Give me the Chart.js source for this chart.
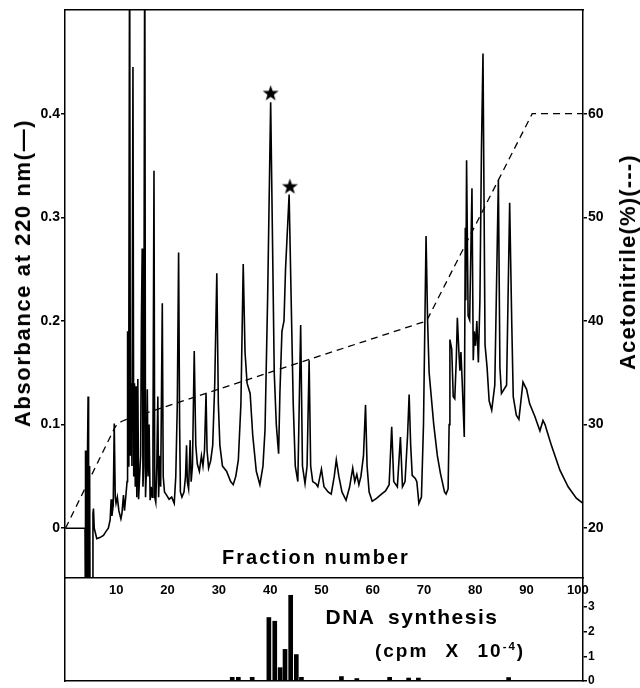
<!DOCTYPE html>
<html>
<head>
<meta charset="utf-8">
<script src="https://cdn.jsdelivr.net/npm/chart.js@4.4.1/dist/chart.umd.min.js"></script>
<style>
  html, body { margin: 0; padding: 0; background: #fff; }
  #wrap { position: relative; width: 640px; height: 688px; overflow: hidden;
          font-family: "Liberation Sans", Arial, sans-serif; font-weight: bold; color: #000; }
  canvas { position: absolute; left: 0; }
  #main { top: 0; }
  #dna { top: 578px; }
  .lbl { position: absolute; white-space: nowrap; transform: translate(-50%, -50%); line-height: 1; }
  .rot { transform: translate(-50%, -50%) rotate(-90deg); }
  sup { font-size: 0.6em; vertical-align: 0.55em; }
</style>
</head>
<body>
<div id="wrap">
  <canvas id="main" width="640" height="688"></canvas>
  <canvas id="dna" width="640" height="110"></canvas>
  <div class="lbl rot" style="left:23px; top:273px; font-size:22px; letter-spacing:1.6px;">Absorbance at 220 nm(—)</div>
  <div class="lbl rot" style="left:628px; top:262px; font-size:22px; letter-spacing:1.2px;">Acetonitrile(%)(---)</div>
  <div class="lbl" style="left:316px; top:557px; font-size:20px; letter-spacing:2px;">Fraction number</div>
  <div class="lbl" style="left:412px; top:616px; font-size:21px; letter-spacing:1.5px; word-spacing:6px;">DNA synthesis</div>
  <div class="lbl" style="left:450px; top:650px; font-size:19px; letter-spacing:2px; word-spacing:10px;">(cpm X 10<sup>-4</sup>)</div>
</div>
<script>
// Absorbance at 220 nm trace (fraction, absorbance)
const absX = [
  0.1, 3.9, 3.95, 4.05, 4.15, 4.3, 4.4, 4.5, 4.6, 4.7, 4.8, 4.9, 5.35, 5.45, 5.55, 5.7, 6.2, 6.8, 7.5, 8.0,
  8.45, 8.8, 9.0, 9.15, 9.4, 9.6, 9.8, 9.95, 10.2, 10.5, 10.9, 11.1, 11.4, 11.6, 11.9, 12.1,
  12.2, 12.3, 12.45, 12.6, 12.75, 12.9, 13.05, 13.25, 13.4, 13.55, 13.7, 13.85, 14.0, 14.2, 14.35, 14.55,
  14.75, 14.9, 15.05, 15.2, 15.35, 15.55, 15.7, 15.9, 16.05, 16.2, 16.4, 16.6, 16.8, 17.0, 17.15, 17.35,
  17.5, 17.7, 17.9, 18.1, 18.25, 18.5, 18.65, 18.97, 19.15, 19.4, 19.8, 20.3, 20.8, 21.3, 21.6, 21.9,
  22.15, 22.35, 22.5,
  22.8, 23.2, 23.5, 23.7, 23.85, 24.1, 24.4, 24.6, 24.85, 25.2, 25.5, 25.8, 26.2, 26.6, 26.9, 27.2,
  27.5, 27.7, 28.0, 28.4, 28.8, 29.2, 29.6, 29.9, 30.2, 30.7, 31.5, 32.3, 32.8, 33.3, 33.8, 34.3,
  34.75, 35.1, 35.5, 36.1, 36.6, 37.3, 38.0, 38.6, 39.0, 39.5, 40.1, 40.4, 40.8, 41.2, 41.65, 41.9,
  42.3, 42.7, 43.0, 43.7, 44.1, 44.5, 44.9, 45.4, 45.95, 46.3, 46.8, 47.2, 47.6, 47.9, 48.3, 48.9,
  49.3, 50.0, 50.5, 51.3, 51.9, 52.5, 52.9, 53.4, 54.0, 54.8, 55.5, 56.1, 56.5, 56.9, 57.3, 57.7,
  58.2, 58.6, 58.9, 59.3, 59.9, 60.8, 61.7, 62.5, 63.2, 63.7, 64.1, 64.8, 65.4, 65.8, 66.3, 66.8,
  67.1, 67.4, 67.7, 68.3, 68.6, 69.0, 69.5, 69.9, 70.4, 70.7, 71.0, 71.9, 72.6, 73.2, 74.0, 74.3,
  74.7, 74.9, 75.05, 75.4, 75.7, 76.0, 76.3, 76.5, 76.8, 77.0, 77.2, 77.45, 77.85, 78.05, 78.15, 78.3,
  78.6, 78.9, 79.35, 79.6, 79.8, 80.05, 80.3, 80.6, 80.9, 81.2, 81.5, 81.9, 82.3, 82.7, 83.2, 83.8,
  84.5, 84.8, 85.1, 86.1, 86.7, 87.1, 87.4, 88.0, 88.5, 89.3, 90.0, 90.6, 91.6, 92.6, 93.2, 93.6,
  93.9, 94.9, 96.5, 98.1, 99.7, 101
];
const absY = [
  0, 0, 0.075, -0.1, 0.075, -0.1, 0.078, 0.127, 0.07, -0.1, 0.06, -0.1, -0.1, 0.014, 0.019, 0.0, -0.01, -0.009, -0.007, -0.003,
  0.0, 0.008, 0.028, 0.012, 0.022, 0.101, 0.03, 0.024, 0.03, 0.017, 0.009, 0.014, 0.032, 0.017, 0.033, 0.045,
  0.19, 0.06, 0.2, 0.6, 0.07, 0.14, 0.06, 0.445, 0.05, 0.14, 0.04, 0.137, 0.03, 0.144, 0.028, 0.05,
  0.07, 0.2, 0.27, 0.04, 0.06, 0.6, 0.03, 0.06, 0.134, 0.05, 0.1, 0.027, 0.04, 0.03, 0.08, 0.345,
  0.03, 0.025, 0.06, 0.127, 0.03, 0.07, 0.04, 0.217, 0.05, 0.035, 0.032, 0.028, 0.03, 0.024, 0.05, 0.12,
  0.266, 0.1, 0.035,
  0.03, 0.035, 0.05, 0.08, 0.045, 0.038, 0.085, 0.045, 0.06, 0.171, 0.08, 0.062, 0.055, 0.07, 0.06, 0.075,
  0.13, 0.075, 0.058, 0.065, 0.08, 0.14, 0.246, 0.12, 0.08, 0.06, 0.055, 0.045, 0.042, 0.05, 0.066, 0.12,
  0.255, 0.17, 0.14, 0.13, 0.09, 0.055, 0.042, 0.06, 0.095, 0.22, 0.411, 0.3, 0.15, 0.1, 0.072, 0.13,
  0.19, 0.2, 0.25, 0.322, 0.22, 0.12, 0.06, 0.045, 0.196, 0.06, 0.043, 0.06, 0.162, 0.06, 0.045, 0.043,
  0.04, 0.057, 0.04, 0.035, 0.033, 0.05, 0.066, 0.05, 0.035, 0.027, 0.04, 0.058, 0.045, 0.052, 0.042, 0.05,
  0.07, 0.119, 0.06, 0.035, 0.026, 0.029, 0.033, 0.036, 0.042, 0.098, 0.045, 0.04, 0.088, 0.04, 0.045, 0.09,
  0.129, 0.08, 0.051, 0.048, 0.045, 0.024, 0.03, 0.1, 0.282, 0.2, 0.15, 0.1, 0.07, 0.053, 0.035, 0.033,
  0.038, 0.1, 0.182, 0.173, 0.127, 0.125, 0.164, 0.203, 0.17, 0.152, 0.17, 0.141, 0.088, 0.29, 0.22, 0.355,
  0.205, 0.201, 0.328, 0.162, 0.19, 0.176, 0.2, 0.16, 0.22, 0.365, 0.458, 0.177, 0.155, 0.123, 0.114, 0.138,
  0.336, 0.155, 0.13, 0.138, 0.314, 0.2, 0.127, 0.109, 0.105, 0.141, 0.134, 0.12, 0.108, 0.094, 0.104, 0.1,
  0.095, 0.079, 0.056, 0.04, 0.029, 0.024
];

// Acetonitrile gradient (%)
const acnX = [0.1, 9.6, 10.1, 11, 12, 70.5, 91.1, 101];
const acnY = [20, 29.6, 30.0, 30.3, 30.5, 40, 60, 60];

// Starred peaks
const starX = [40.1, 43.85];
const starY = [0.42, 0.33];

// DNA synthesis (cpm x 10^-4)
const dnaX = [32.6, 33.8, 36.5, 39.75, 40.9, 41.95, 42.9, 44.0, 45.1, 46.1, 53.9, 56.9, 63.3, 67.0, 68.9, 86.5];
const dnaY = [0.15, 0.15, 0.15, 2.57, 2.42, 0.54, 1.28, 3.47, 1.07, 0.15, 0.18, 0.1, 0.15, 0.12, 0.12, 0.14];

// Tick labels
const fracTicks = [10, 20, 30, 40, 50, 60, 70, 80, 90, 100];
const absTicks = [0, 0.1, 0.2, 0.3, 0.4];
const acnTicks = [20, 30, 40, 50, 60];
const dnaTicks = [0, 1, 2, 3];

const fontFamily = '"Liberation Sans", Arial, sans-serif';
const border = { display: true, color: '#000', width: 1.5 };
const noGrid = { display: false, drawTicks: false, tickLength: 0 };

// fixed axis sizes so both canvases share the same plot edges
function fixWidth(w) { return s => { s.width = w; s.paddingTop = 0; s.paddingBottom = 0; }; }
function fixHeight(h) { return s => { s.height = h; s.paddingLeft = 0; s.paddingRight = 0; }; }
function setTicks(vals) { return s => { s.ticks = vals.map(v => ({ value: v })); }; }

// Filled five-point star used as point style
const starImg = document.createElement('canvas');
starImg.width = 17;
starImg.height = 17;
const sc = starImg.getContext('2d');
sc.beginPath();
for (let i = 0; i < 10; i++) {
    const r = i % 2 ? 3.4 : 8.4;
    const ang = -Math.PI / 2 + i * Math.PI / 5;
    sc.lineTo(8.5 + r * Math.cos(ang), 9.2 + r * Math.sin(ang));
}
sc.closePath();
sc.fillStyle = '#000';
sc.fill();

// Main chromatogram
new Chart(document.getElementById('main'), {
    type: 'line',
    data: {
        datasets: [{
            data: absX.map((x, i) => ({ x, y: absY[i] })),
            borderColor: '#000',
            borderWidth: 1.6,
            pointRadius: 0,
            tension: 0,
            xAxisID: 'x',
            yAxisID: 'y'
        }, {
            data: acnX.map((x, i) => ({ x, y: acnY[i] })),
            borderColor: '#000',
            borderWidth: 1.3,
            borderDash: [7, 5],
            pointRadius: 0,
            tension: 0,
            xAxisID: 'x',
            yAxisID: 'y2'
        }, {
            type: 'scatter',
            data: starX.map((x, i) => ({ x, y: starY[i] })),
            pointStyle: starImg,
            pointRadius: 8,
            showLine: false,
            xAxisID: 'x',
            yAxisID: 'y'
        }]
    },
    options: {
        responsive: false,
        animation: false,
        layout: { padding: 0 },
        plugins: { legend: { display: false }, tooltip: { enabled: false } },
        scales: {
            x: {
                type: 'linear', position: 'bottom', min: 0, max: 101, offset: false,
                afterBuildTicks: setTicks(fracTicks), afterFit: fixHeight(110),
                grid: noGrid, border,
                ticks: { color: '#000', padding: 5, maxRotation: 0, font: { family: fontFamily, weight: 'bold', size: 13 } }
            },
            xTop: {
                type: 'linear', position: 'top', min: 0, max: 101,
                ticks: { display: false }, grid: noGrid, border,
                afterFit: fixHeight(10)
            },
            y: {
                type: 'linear', position: 'left', min: -0.048, max: 0.5,
                afterBuildTicks: setTicks(absTicks), afterFit: fixWidth(65),
                grid: { display: true, drawOnChartArea: false, tickLength: 4, color: '#000', lineWidth: 1.5 }, border,
                ticks: { color: '#000', padding: 1, font: { family: fontFamily, weight: 'bold', size: 14 },
                         callback: v => v === 0 ? '0' : v.toFixed(1) }
            },
            y2: {
                type: 'linear', position: 'right', min: 15.2, max: 70,
                afterBuildTicks: setTicks(acnTicks), afterFit: fixWidth(57),
                grid: { display: true, drawOnChartArea: false, tickLength: 4, color: '#000', lineWidth: 1.5 }, border,
                ticks: { color: '#000', padding: 1, font: { family: fontFamily, weight: 'bold', size: 14 } }
            }
        }
    }
});

// DNA synthesis panel
new Chart(document.getElementById('dna'), {
    type: 'bar',
    data: {
        datasets: [{
            data: dnaX.map((x, i) => ({ x, y: dnaY[i] })),
            backgroundColor: '#000',
            barThickness: 4,
            xAxisID: 'x',
            yAxisID: 'yR'
        }]
    },
    options: {
        responsive: false,
        animation: false,
        layout: { padding: 0 },
        plugins: { legend: { display: false }, tooltip: { enabled: false } },
        scales: {
            x: {
                type: 'linear', position: 'bottom', min: 0, max: 101, offset: false,
                ticks: { display: false }, grid: noGrid, border,
                afterFit: fixHeight(7)
            },
            yL: {
                type: 'linear', position: 'left', min: 0, max: 4.17,
                ticks: { display: false }, grid: noGrid, border,
                afterFit: fixWidth(65)
            },
            yR: {
                type: 'linear', position: 'right', min: 0, max: 4.17,
                afterBuildTicks: setTicks(dnaTicks), afterFit: fixWidth(57),
                grid: { display: true, drawOnChartArea: false, tickLength: 4, color: '#000', lineWidth: 1.5 }, border,
                ticks: { color: '#000', padding: 1, font: { family: fontFamily, weight: 'bold', size: 12 } }
            }
        }
    }
});
</script>
</body>
</html>
